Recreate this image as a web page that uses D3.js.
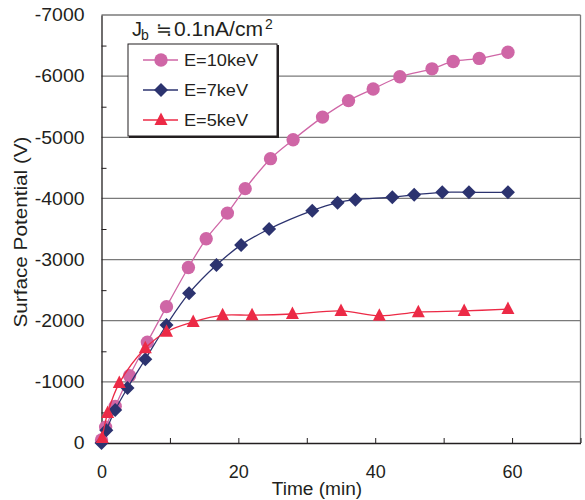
<!DOCTYPE html>
<html><head><meta charset="utf-8">
<script src="https://cdn.jsdelivr.net/npm/d3@7"></script>
<style>body{margin:0;background:#fff}svg{display:block}text{font-family:"Liberation Sans",Arial,sans-serif;fill:#231f20}</style>
</head><body>
<script>
const seriesNames = ["E=10keV","E=7keV","E=5keV"];
const t10 = [0,0.6,2.0,4.1,6.7,9.5,12.7,15.3,18.4,21.0,24.7,28.0,32.3,36.1,39.7,43.6,48.3,51.4,55.2,59.4];
const v10 = [-50,-260,-600,-1100,-1650,-2230,-2870,-3340,-3760,-4160,-4650,-4960,-5330,-5600,-5790,-5990,-6120,-6240,-6290,-6390];
const t7 = [0,0.7,2.0,3.8,6.4,9.5,12.8,16.8,20.4,24.5,30.8,34.5,37.1,42.5,45.7,49.8,53.7,59.4];
const v7 = [0,-210,-540,-900,-1370,-1930,-2450,-2910,-3240,-3500,-3800,-3930,-3980,-4020,-4060,-4100,-4100,-4100];
const t5 = [0.1,0.9,2.6,6.4,9.5,13.4,17.7,22.0,27.9,35.0,40.6,46.3,53.0,59.4];
const v5 = [-80,-490,-980,-1550,-1820,-1980,-2090,-2090,-2110,-2160,-2080,-2140,-2160,-2190];
const yTicks = [-7000,-6000,-5000,-4000,-3000,-2000,-1000,0];
const xTicks = [0,20,40,60];
const colors = ["#cf66a6","#2c336f","#ec2a46"];
const shapes = ["circle","diamond","triangle"];

const W=585,H=500;
const svg=d3.select("body").append("svg").attr("width",W).attr("height",H);
const x=d3.scaleLinear().domain([0,70]).range([101.5,580.5]);
const y=d3.scaleLinear().domain([0,-7000]).range([443,15]);

function stretch(sel,k){
  sel.each(function(){const L=this.getComputedTextLength();this.setAttribute("textLength",L*k);this.setAttribute("lengthAdjust","spacingAndGlyphs");});
}

// grid
svg.append("g").selectAll("line").data(yTicks.filter(d=>d!==0)).join("line")
  .attr("x1",x(0)).attr("x2",x(70)).attr("y1",d=>y(d)).attr("y2",d=>y(d))
  .attr("stroke","#7a7a7a").attr("stroke-width",1.3);
svg.append("line").attr("x1",x(70)).attr("x2",x(70)).attr("y1",y(-7000)).attr("y2",y(0)).attr("stroke","#7a7a7a").attr("stroke-width",1.3);

// axes
const yAxis=d3.axisLeft(y).tickValues(yTicks).tickFormat(d=>String(d)).tickSize(0).tickPadding(17);
const gy=svg.append("g").attr("transform",`translate(${x(0)},0)`).call(yAxis);
gy.select(".domain").attr("stroke","#231f20").attr("stroke-width",1.3);
gy.selectAll("text").style("font-size","18px").attr("fill","#231f20").call(stretch,1.08);
const yMinor=d3.axisRight(y).tickValues(d3.range(-6500,0,1000)).tickSize(5).tickFormat("");
const gym=svg.append("g").attr("transform",`translate(${x(0)},0)`).call(yMinor);
gym.select(".domain").remove();gym.selectAll("line").attr("stroke","#231f20");

const xAxis=d3.axisBottom(x).tickValues(xTicks).tickFormat(d=>String(d)).tickSize(0).tickPadding(22);
const gx=svg.append("g").attr("transform",`translate(0,${y(0)})`).call(xAxis);
gx.select(".domain").attr("stroke","#231f20").attr("stroke-width",1.3);
gx.selectAll("text").style("font-size","18px").attr("fill","#231f20");
const xMinor=d3.axisTop(x).tickValues(d3.range(10,71,10)).tickSize(5).tickFormat("");
const gxm=svg.append("g").attr("transform",`translate(0,${y(0)})`).call(xMinor);
gxm.select(".domain").remove();gxm.selectAll("line").attr("stroke","#231f20");

svg.append("text").attr("x",317).attr("y",495).attr("text-anchor","middle").style("font-size","18px").text("Time (min)").call(stretch,1.06);
svg.append("text").attr("transform","translate(27,232) rotate(-90)").attr("text-anchor","middle").style("font-size","17.5px")
  .attr("textLength",191).attr("lengthAdjust","spacingAndGlyphs").text("Surface Potential (V)");

function sym(shape){
  if(shape==="circle") return d3.symbol(d3.symbolCircle,140)();
  if(shape==="diamond") return "M0,-7L7,0L0,7L-7,0Z";
  return "M0,-7.5L6.5,5L-6.5,5Z";
}
const data=[[t10,v10],[t7,v7],[t5,v5]];
const line=d3.line().x(d=>x(d[0])).y(d=>y(d[1])).curve(d3.curveCatmullRom.alpha(0.5));
data.forEach(([ts,vs],i)=>{
  const pts=ts.map((t,j)=>[t,vs[j]]);
  svg.append("path").attr("d",line(pts)).attr("fill","none").attr("stroke",colors[i]).attr("stroke-width",1.3);
  svg.append("g").selectAll("path").data(pts).join("path")
    .attr("transform",d=>`translate(${x(d[0])},${y(d[1])})`).attr("d",sym(shapes[i])).attr("fill",colors[i]);
});

// legend
svg.append("rect").attr("x",129).attr("y",45).attr("width",150).attr("height",93).attr("fill","#231f20");
svg.append("rect").attr("x",128).attr("y",44).attr("width",149).attr("height",92).attr("fill","#fff").attr("stroke","#231f20").attr("stroke-width",1);
seriesNames.forEach((n,i)=>{
  const ly=60+i*30;
  svg.append("line").attr("x1",143).attr("x2",178).attr("y1",ly).attr("y2",ly).attr("stroke",colors[i]).attr("stroke-width",1.3);
  svg.append("path").attr("transform",`translate(161,${ly})`).attr("d",sym(shapes[i])).attr("fill",colors[i]);
  svg.append("text").attr("x",184).attr("y",ly+6).style("font-size","16.5px").text(n).call(stretch,1.1);
});
const tt=svg.append("text").attr("y",36).style("font-size","20px");
tt.append("tspan").attr("x",132).text("J");
tt.append("tspan").attr("x",141).attr("dy",4).style("font-size","14px").text("b");
tt.append("tspan").attr("x",156).attr("dy",-4).style("font-family","'DejaVu Sans'").style("font-size","19px").text("≒");
tt.append("tspan").attr("x",174).attr("textLength",89).attr("lengthAdjust","spacingAndGlyphs").text("0.1nA/cm");
tt.append("tspan").attr("x",265).attr("dy",-7).style("font-size","14px").text("2");
</script>
</body></html>
